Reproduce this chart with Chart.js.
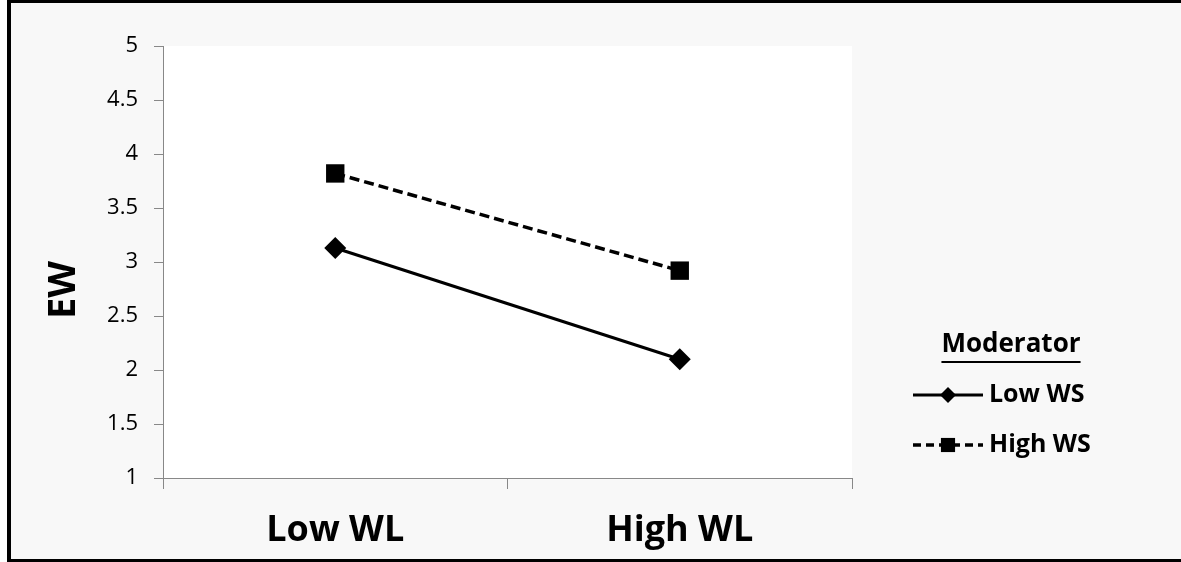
<!DOCTYPE html>
<html>
<head>
<meta charset="utf-8">
<script src="https://cdn.jsdelivr.net/npm/chart.js@4"></script>
<style>
  html, body { margin: 0; padding: 0; background: #ffffff; overflow: hidden; width: 1181px; height: 562px; }
  #wrap { position: absolute; left: 0; top: 0; width: 1181px; height: 562px; }
</style>
</head>
<body>
<div id="wrap"><canvas id="chart" width="1181" height="562"></canvas></div>
<script>
// Données
const categories = ['Low WL', 'High WL'];
const lowWS = [3.13, 2.10];
const highWS = [3.82, 2.92];
const yTicks = [1, 1.5, 2, 2.5, 3, 3.5, 4, 4.5, 5];

const FONT = '"Open Sans", Lato, sans-serif';
const AXIS_GREY = '#888888';

// Cadre, fond gris et fond blanc de la zone de tracé
const plotBg = {
  id: 'plotBg',
  beforeDraw(chart) {
    const { ctx, chartArea: a } = chart;
    ctx.save();
    ctx.fillStyle = '#f8f8f8';
    ctx.fillRect(7, 0, 1181 - 7, 562);
    ctx.fillStyle = '#000';
    ctx.fillRect(7, 0, 4, 562);      // bord gauche
    ctx.fillRect(7, 0, 1181 - 7, 3); // bord haut
    ctx.fillRect(7, 559, 1181 - 7, 3); // bord bas
    ctx.fillStyle = '#ffffff';
    ctx.fillRect(a.left, a.top, a.right - a.left, a.bottom - a.top);
    ctx.restore();
  }
};

// Titre de l'axe Y et légende personnalisée
const extras = {
  id: 'extras',
  afterDraw(chart) {
    const ctx = chart.ctx;
    ctx.save();
    // Titre "EW"
    ctx.translate(64, 290);
    ctx.rotate(-Math.PI / 2);
    ctx.font = 'bold 38px ' + FONT;
    ctx.fillStyle = '#000';
    ctx.textAlign = 'center';
    ctx.textBaseline = 'middle';
    ctx.fillText('EW', 0, 0);
    ctx.restore();

    // Légende
    ctx.save();
    ctx.fillStyle = '#000';
    ctx.font = 'bold 26px ' + FONT;
    ctx.textAlign = 'center';
    ctx.textBaseline = 'middle';
    const title = 'Moderator';
    ctx.fillText(title, 1011, 345);
    const tw = ctx.measureText(title).width;
    ctx.fillRect(1011 - tw / 2, 361, tw, 2);

    const markerSize = [8, 10];
    chart.data.datasets.forEach((ds, i) => {
      const y = 395 + i * 50;
      ctx.save();
      ctx.strokeStyle = ds.borderColor;
      ctx.lineWidth = ds.borderWidth;
      ctx.setLineDash(i ? [8, 5] : []);
      ctx.beginPath();
      ctx.moveTo(913, y);
      ctx.lineTo(983, y);
      ctx.stroke();
      ctx.restore();
      Chart.helpers.drawPoint(ctx, {
        pointStyle: ds.pointStyle,
        radius: markerSize[i],
        borderWidth: 0
      }, 948, y);
      ctx.fillStyle = '#000';
      ctx.font = 'bold 25px ' + FONT;
      ctx.textAlign = 'left';
      ctx.fillText(ds.label, 989, y);
    });
    ctx.restore();
  }
};

new Chart(document.getElementById('chart').getContext('2d'), {
  type: 'line',
  data: {
    labels: categories,
    datasets: [
      {
        label: 'Low WS',
        data: lowWS,
        borderColor: '#000',
        backgroundColor: '#000',
        borderWidth: 3,
        pointStyle: 'rectRot',
        pointRadius: 11,
        pointHoverRadius: 11,
        pointBorderWidth: 0,
        tension: 0
      },
      {
        label: 'High WS',
        data: highWS,
        borderColor: '#000',
        backgroundColor: '#000',
        borderWidth: 3.5,
        borderDash: [10, 5],
        pointStyle: 'rect',
        pointRadius: 13,
        pointHoverRadius: 13,
        pointBorderWidth: 0,
        tension: 0
      }
    ]
  },
  options: {
    responsive: false,
    animation: false,
    layout: { padding: { left: 0, top: 46, right: 1181 - 852, bottom: 0 } },
    plugins: { legend: { display: false }, tooltip: { enabled: false } },
    scales: {
      x: {
        offset: true,
        grid: {
          offset: true,
          drawOnChartArea: false,
          tickLength: 11,
          color: AXIS_GREY
        },
        border: { color: AXIS_GREY, width: 1 },
        ticks: {
          color: '#000',
          padding: 20,
          font: { family: FONT, size: 36, weight: 'bold' }
        },
        afterFit(scale) { scale.height = 562 - 478; }
      },
      y: {
        min: 1,
        max: 5,
        afterBuildTicks(scale) { scale.ticks = yTicks.map(v => ({ value: v })); },
        grid: {
          drawOnChartArea: false,
          tickLength: 9,
          color: AXIS_GREY
        },
        border: { color: AXIS_GREY, width: 1 },
        ticks: {
          color: '#000',
          padding: 16,
          font: { family: FONT, size: 22 },
          callback: v => String(v)
        },
        afterFit(scale) { scale.width = 163; }
      }
    }
  },
  plugins: [plotBg, extras]
});
</script>
</body>
</html>
